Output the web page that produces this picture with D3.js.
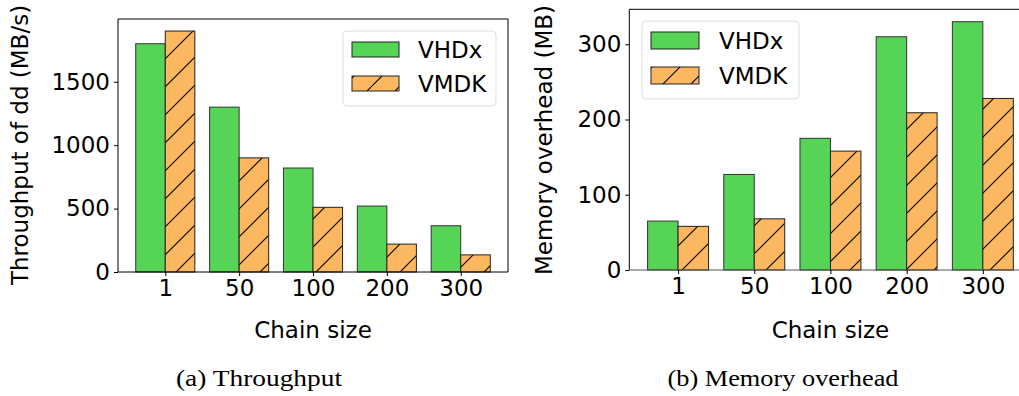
<!DOCTYPE html>
<html>
<head>
<meta charset="utf-8">
<script src="https://cdn.jsdelivr.net/npm/d3@7"></script>
<style>
  body { margin: 0; background: #fff; }
  svg { display: block; }
</style>
</head>
<body>
<script>
var categories = ["1", "50", "100", "200", "300"];
var seriesNames = ["VHDx", "VMDK"];
var throughputVHDx = [1800, 1300, 820, 520, 365];
var throughputVMDK = [1900, 900, 510, 220, 135];
var memoryVHDx = [65, 127, 175, 310, 330];
var memoryVMDK = [58, 68, 158, 209, 228];
var throughputTicks = [0, 500, 1000, 1500];
var memoryTicks = [0, 100, 200, 300];

var green = "#55d455", orange = "#fbb861";

var svg = d3.select('body').append('svg').attr('width', 1019).attr('height', 396);

var defs = svg.append('defs');
var pat = defs.append('pattern').attr('id', 'hatch')
    .attr('patternUnits', 'userSpaceOnUse')
    .attr('width', 28).attr('height', 28);
pat.append('rect').attr('width', 28).attr('height', 28).attr('fill', orange);
pat.append('path').attr('d', 'M0,28L28,0M-2,2L2,-2M26,30L30,26')
    .attr('stroke', '#000').attr('stroke-width', 1.1);

function panel(p) {
    var x = d3.scaleLinear().domain([-0.64, 4.64]).range([p.left, p.right]);
    var y = d3.scaleLinear().domain([0, p.ymax]).range([p.bottom, p.top]);
    var g = svg.append('g');
    var fs = p.fs;

    // bars
    var rows = categories.map(function(c, i){ return {i: i, a: p.a[i], b: p.b[i]}; });
    g.selectAll('rect.a').data(rows).enter().append('rect')
        .attr('class', 'a')
        .attr('x', function(d){ return x(d.i - 0.4); })
        .attr('width', function(d){ return x(d.i) - x(d.i - 0.4); })
        .attr('y', function(d){ return y(d.a); })
        .attr('height', function(d){ return y(0) - y(d.a); })
        .attr('fill', green).attr('stroke', '#333').attr('stroke-width', 1);
    g.selectAll('rect.b').data(rows).enter().append('rect')
        .attr('class', 'b')
        .attr('x', function(d){ return x(d.i); })
        .attr('width', function(d){ return x(d.i + 0.4) - x(d.i); })
        .attr('y', function(d){ return y(d.b); })
        .attr('height', function(d){ return y(0) - y(d.b); })
        .attr('fill', 'url(#hatch)').attr('stroke', '#222').attr('stroke-width', 1);

    // frame
    var frame = g.append('g').attr('fill', 'none').attr('stroke-width', 1);
    frame.append('line').attr('x1', p.left).attr('x2', p.left).attr('y1', p.top).attr('y2', p.bottom).attr('stroke', '#000');
    frame.append('line').attr('x1', p.left).attr('x2', p.right).attr('y1', p.top).attr('y2', p.top).attr('stroke', '#000');
    frame.append('line').attr('x1', p.right).attr('x2', p.right).attr('y1', p.top).attr('y2', p.bottom).attr('stroke', '#000');
    frame.append('line').attr('x1', p.left).attr('x2', p.right).attr('y1', p.bottom).attr('y2', p.bottom).attr('stroke', p.bottomColor);

    // axes
    var xAxis = d3.axisBottom(x).tickValues(d3.range(categories.length))
        .tickFormat(function(i){ return categories[i]; }).tickSize(4).tickPadding(4);
    var xa = g.append('g').attr('transform', 'translate(0,' + p.bottom + ')').call(xAxis);
    var yAxis = d3.axisLeft(y).tickValues(p.ticks).tickFormat(d3.format('d')).tickSize(4).tickPadding(4);
    var ya = g.append('g').attr('transform', 'translate(' + p.left + ',0)').call(yAxis);
    [xa, ya].forEach(function(a){
        a.select('.domain').remove();
        a.selectAll('line').attr('stroke', '#000');
        a.selectAll('text').attr('font-family', 'DejaVu Sans').attr('font-size', fs).attr('fill', '#000');
    });

    // labels
    g.append('text').attr('x', (p.left + p.right) / 2).attr('y', p.xlabY)
        .attr('text-anchor', 'middle').attr('font-family', 'DejaVu Sans').attr('font-size', fs)
        .text('Chain size');
    g.append('text').attr('transform', 'translate(' + p.ylabX + ',' + p.ylabY + ') rotate(-90)')
        .attr('text-anchor', 'middle').attr('font-family', 'DejaVu Sans').attr('font-size', fs)
        .text(p.ylabel);

    // legend
    var L = p.legend;
    var lg = g.append('g').attr('transform', 'translate(' + L.x + ',' + L.y + ')');
    lg.append('rect').attr('width', L.w).attr('height', L.h).attr('rx', 4)
        .attr('fill', '#fff').attr('fill-opacity', 0.8).attr('stroke', '#ddd');
    seriesNames.forEach(function(s, k){
        lg.append('rect').attr('x', L.px).attr('y', L.py + k * L.dy).attr('width', L.pw).attr('height', L.ph)
            .attr('fill', k === 0 ? green : 'url(#hatch)').attr('stroke', '#222');
        lg.append('text').attr('x', L.tx).attr('y', L.py + k * L.dy + L.ph / 2).attr('dy', '0.36em')
            .attr('font-family', 'DejaVu Sans').attr('font-size', fs).text(s);
    });

    // caption
    svg.append('text').attr('x', p.capX - p.capW / 2).attr('y', 386)
        .attr('textLength', p.capW).attr('lengthAdjust', 'spacingAndGlyphs')
        .attr('font-family', 'Liberation Serif').attr('font-size', 23).text(p.caption);
}

panel({
    left: 118, right: 508, top: 19, bottom: 272, ymax: 1995, fs: 23,
    a: throughputVHDx, b: throughputVMDK, ticks: throughputTicks,
    bottomColor: '#000', xlabY: 338, ylabX: 28, ylabY: 145,
    ylabel: 'Throughput of dd (MB/s)',
    legend: {x: 343, y: 31, w: 153, h: 75, px: 9, py: 11, pw: 47, ph: 15, dy: 34, tx: 75},
    capX: 259, capW: 166, caption: '(a) Throughput'
});

panel({
    left: 629.3, right: 1031.6, top: 9.3, bottom: 270, ymax: 346.5, fs: 23,
    a: memoryVHDx, b: memoryVMDK, ticks: memoryTicks,
    bottomColor: '#555', xlabY: 338, ylabX: 552, ylabY: 140,
    ylabel: 'Memory overhead (MB)',
    legend: {x: 642, y: 21, w: 157, h: 78, px: 9, py: 11, pw: 48, ph: 17, dy: 35, tx: 77},
    capX: 783, capW: 231, caption: '(b) Memory overhead'
});
</script>
</body>
</html>
